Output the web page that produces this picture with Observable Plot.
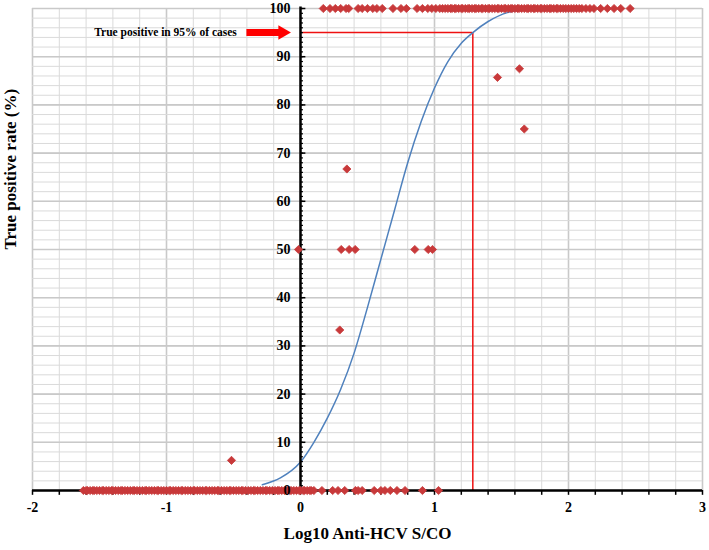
<!DOCTYPE html>
<html>
<head>
<meta charset="utf-8">
<script src="https://cdn.jsdelivr.net/npm/d3@7"></script>
<script src="https://cdn.jsdelivr.net/npm/@observablehq/plot@0.6"></script>
<style>
  html, body { margin: 0; padding: 0; background: #fff; }
  #chart svg { display: block; }
</style>
</head>
<body>
<div id="chart"></div>
<script>
// ---- data ----
// cases with true-positive rate 100 %
const positiveX = [0.17,0.22,0.26,0.30,0.34,0.36,0.43,0.46,0.50,0.54,0.57,0.61,0.69,0.75,0.79,0.87,0.91,0.95,0.98,1.01,1.04,1.06,1.08,1.10,1.12,1.13,1.15,1.16,1.18,1.20,1.21,1.23,1.25,1.26,1.28,1.30,1.31,1.33,1.35,1.36,1.38,1.40,1.41,1.43,1.45,1.47,1.48,1.50,1.52,1.53,1.55,1.57,1.58,1.60,1.62,1.63,1.65,1.67,1.69,1.70,1.72,1.74,1.75,1.77,1.79,1.80,1.82,1.84,1.86,1.87,1.89,1.91,1.92,1.94,1.96,1.98,2.00,2.02,2.04,2.06,2.08,2.10,2.13,2.16,2.19,2.24,2.29,2.34,2.39,2.46];
// cases with true-positive rate 0 %
const negativeX = [-1.62,-1.60,-1.59,-1.57,-1.55,-1.54,-1.52,-1.50,-1.48,-1.47,-1.45,-1.43,-1.41,-1.40,-1.38,-1.36,-1.34,-1.33,-1.31,-1.29,-1.27,-1.25,-1.24,-1.22,-1.20,-1.18,-1.16,-1.15,-1.13,-1.11,-1.09,-1.07,-1.06,-1.04,-1.02,-1.00,-0.98,-0.97,-0.95,-0.93,-0.91,-0.89,-0.88,-0.86,-0.84,-0.82,-0.80,-0.79,-0.77,-0.75,-0.73,-0.71,-0.70,-0.68,-0.66,-0.64,-0.62,-0.61,-0.59,-0.57,-0.55,-0.53,-0.52,-0.50,-0.48,-0.46,-0.44,-0.43,-0.41,-0.39,-0.37,-0.35,-0.34,-0.32,-0.30,-0.28,-0.26,-0.25,-0.23,-0.21,-0.19,-0.17,-0.16,-0.14,-0.12,-0.10,-0.08,-0.07,-0.05,-0.03,-0.01,0.00,0.02,0.03,0.05,0.07,0.08,0.10,0.16,0.24,0.28,0.33,0.41,0.43,0.46,0.55,0.60,0.63,0.67,0.72,0.78,0.91,1.03];
// intermediate cases
const otherX = [-0.515,-0.015,0.293,0.346,0.304,0.363,0.408,0.853,0.953,0.985,1.47,1.634,1.67];
const otherY = [6.25,50,33.3,66.7,50,50,50,50,50,50,85.7,87.5,75];
// fitted curve (blue)
const curveX = [-0.285,-0.15,0,0.1,0.2,0.3,0.4,0.5,0.6,0.7,0.8,0.9,1.0,1.1,1.2,1.286,1.4,1.55,1.7,1.9];
const curveY = [1.2,2.6,5.9,10,15,21,28.5,38,48,58,68,76.5,83.5,89,92.8,95,97.3,99.2,99.8,100];
// 95 % cut-off
const cutX = [1.286];
const cutY = [95];
// tick labels
const xTickLabels = [-2,-1,0,1,2,3];
const yTickLabels = [0,10,20,30,40,50,60,70,80,90,100];
const annotationText = ["True positive in 95% of cases"];
const arrowX = [-0.40, -0.134];
const xTitle = "Log10 Anti-HCV S/CO";
const yTitle = "True positive rate (%)";

// ---- build tables ----
const points = [
  ...negativeX.map(x => ({x, y: 0})),
  ...otherX.map((x, i) => ({x, y: otherY[i]})),
  ...positiveX.map(x => ({x, y: 100}))
];
const curve = curveX.map((x, i) => ({x, y: curveY[i]}));
const xGrid = d3.ticks(-2, 3, 25);
const xMajor = d3.ticks(-2, 3, 5);
const yGrid = d3.ticks(0, 100, 50);
const yMinorTicks = d3.ticks(0, 100, 100);
const yMajor = d3.ticks(0, 100, 10);

const FONT = "'Liberation Serif', 'Times New Roman', serif";
const RED_PT = "#c8393a";
const RED = "#ee1111";
const BLUE = "#4f81bd";

const chart = Plot.plot({
  width: 709,
  height: 550,
  marginLeft: 32,
  marginRight: 7,
  marginTop: 8,
  marginBottom: 60,
  x: {domain: [-2, 3], axis: null},
  y: {domain: [0, 100], axis: null},
  style: {fontFamily: FONT, background: "#fff"},
  marks: [
    // grid
    Plot.ruleX(xGrid, {x: d => d, y1: 0, y2: 100, stroke: "#dadada", strokeWidth: 1}),
    Plot.ruleX(xMajor, {x: d => d, y1: 0, y2: 100, stroke: "#c9c9c9", strokeWidth: 1.6}),
    Plot.ruleY(yGrid, {y: d => d, x1: -2, x2: 3, stroke: "#dadada", strokeWidth: 1}),
    Plot.ruleY(yMajor, {y: d => d, x1: -2, x2: 3, stroke: "#c9c9c9", strokeWidth: 1.6}),
    // 95% cut-off lines
    Plot.ruleY(cutY, {y: d => d, x1: 0, x2: cutX[0], stroke: RED, strokeWidth: 1.5}),
    Plot.ruleX(cutX, {x: d => d, y1: 0, y2: cutY[0], stroke: RED, strokeWidth: 1.5}),
    // curve
    Plot.line(curve, {x: "x", y: "y", stroke: BLUE, strokeWidth: 1.5, curve: "monotone-x"}),
    // axes lines and ticks
    Plot.ruleX(xGrid, {x: d => d, y1: 0, y2: -1, stroke: "#000", strokeWidth: 1.5}),
    Plot.ruleY(yMinorTicks, {y: d => d, x1: 0, x2: 0.022, stroke: "#000", strokeWidth: 1.2}),
    Plot.ruleY(yMajor, {y: d => d, x1: 0, x2: 0.04, stroke: "#000", strokeWidth: 1.5}),
    Plot.ruleY([0], {x1: -2, x2: 3, stroke: "#000", strokeWidth: 2.5}),
    Plot.ruleX([0], {y1: 0, y2: 100.3, stroke: "#000", strokeWidth: 2.5}),
    // data points
    Plot.dot(points, {x: "x", y: "y", symbol: "diamond2", r: 3.7, fill: RED_PT, stroke: RED_PT, strokeWidth: 0.8}),
    // tick labels
    Plot.text(yTickLabels, {x: 0, y: d => d, text: d => String(d), dx: -10, textAnchor: "end",
      fontSize: 14, fontWeight: "bold", fill: "#000"}),
    Plot.text(xTickLabels, {x: d => d, y: 0, text: d => String(d), dy: 17,
      fontSize: 14, fontWeight: "bold", fill: "#000"}),
    // annotation arrow
    Plot.ruleY(cutY, {y: d => d, x1: arrowX[0], x2: arrowX[1], stroke: "#ff0000", strokeWidth: 7}),
    Plot.dot(cutY, {x: arrowX[1], y: d => d, symbol: "triangle", rotate: 90, r: 5.4, fill: "#ff0000", stroke: null}),
    Plot.text(annotationText, {x: -0.475, y: cutY[0], text: d => d, textAnchor: "end",
      fontSize: 11.5, fontWeight: "bold", fill: "#000"}),
    // axis titles
    Plot.text([yTitle], {frameAnchor: "left", text: d => d, rotate: -90, dx: -22,
      fontSize: 17, fontWeight: "bold", fill: "#000"}),
    Plot.text([xTitle], {frameAnchor: "bottom", text: d => d, dy: 48,
      fontSize: 17, fontWeight: "bold", fill: "#000"})
  ]
});
document.getElementById("chart").appendChild(chart);
</script>
</body>
</html>
